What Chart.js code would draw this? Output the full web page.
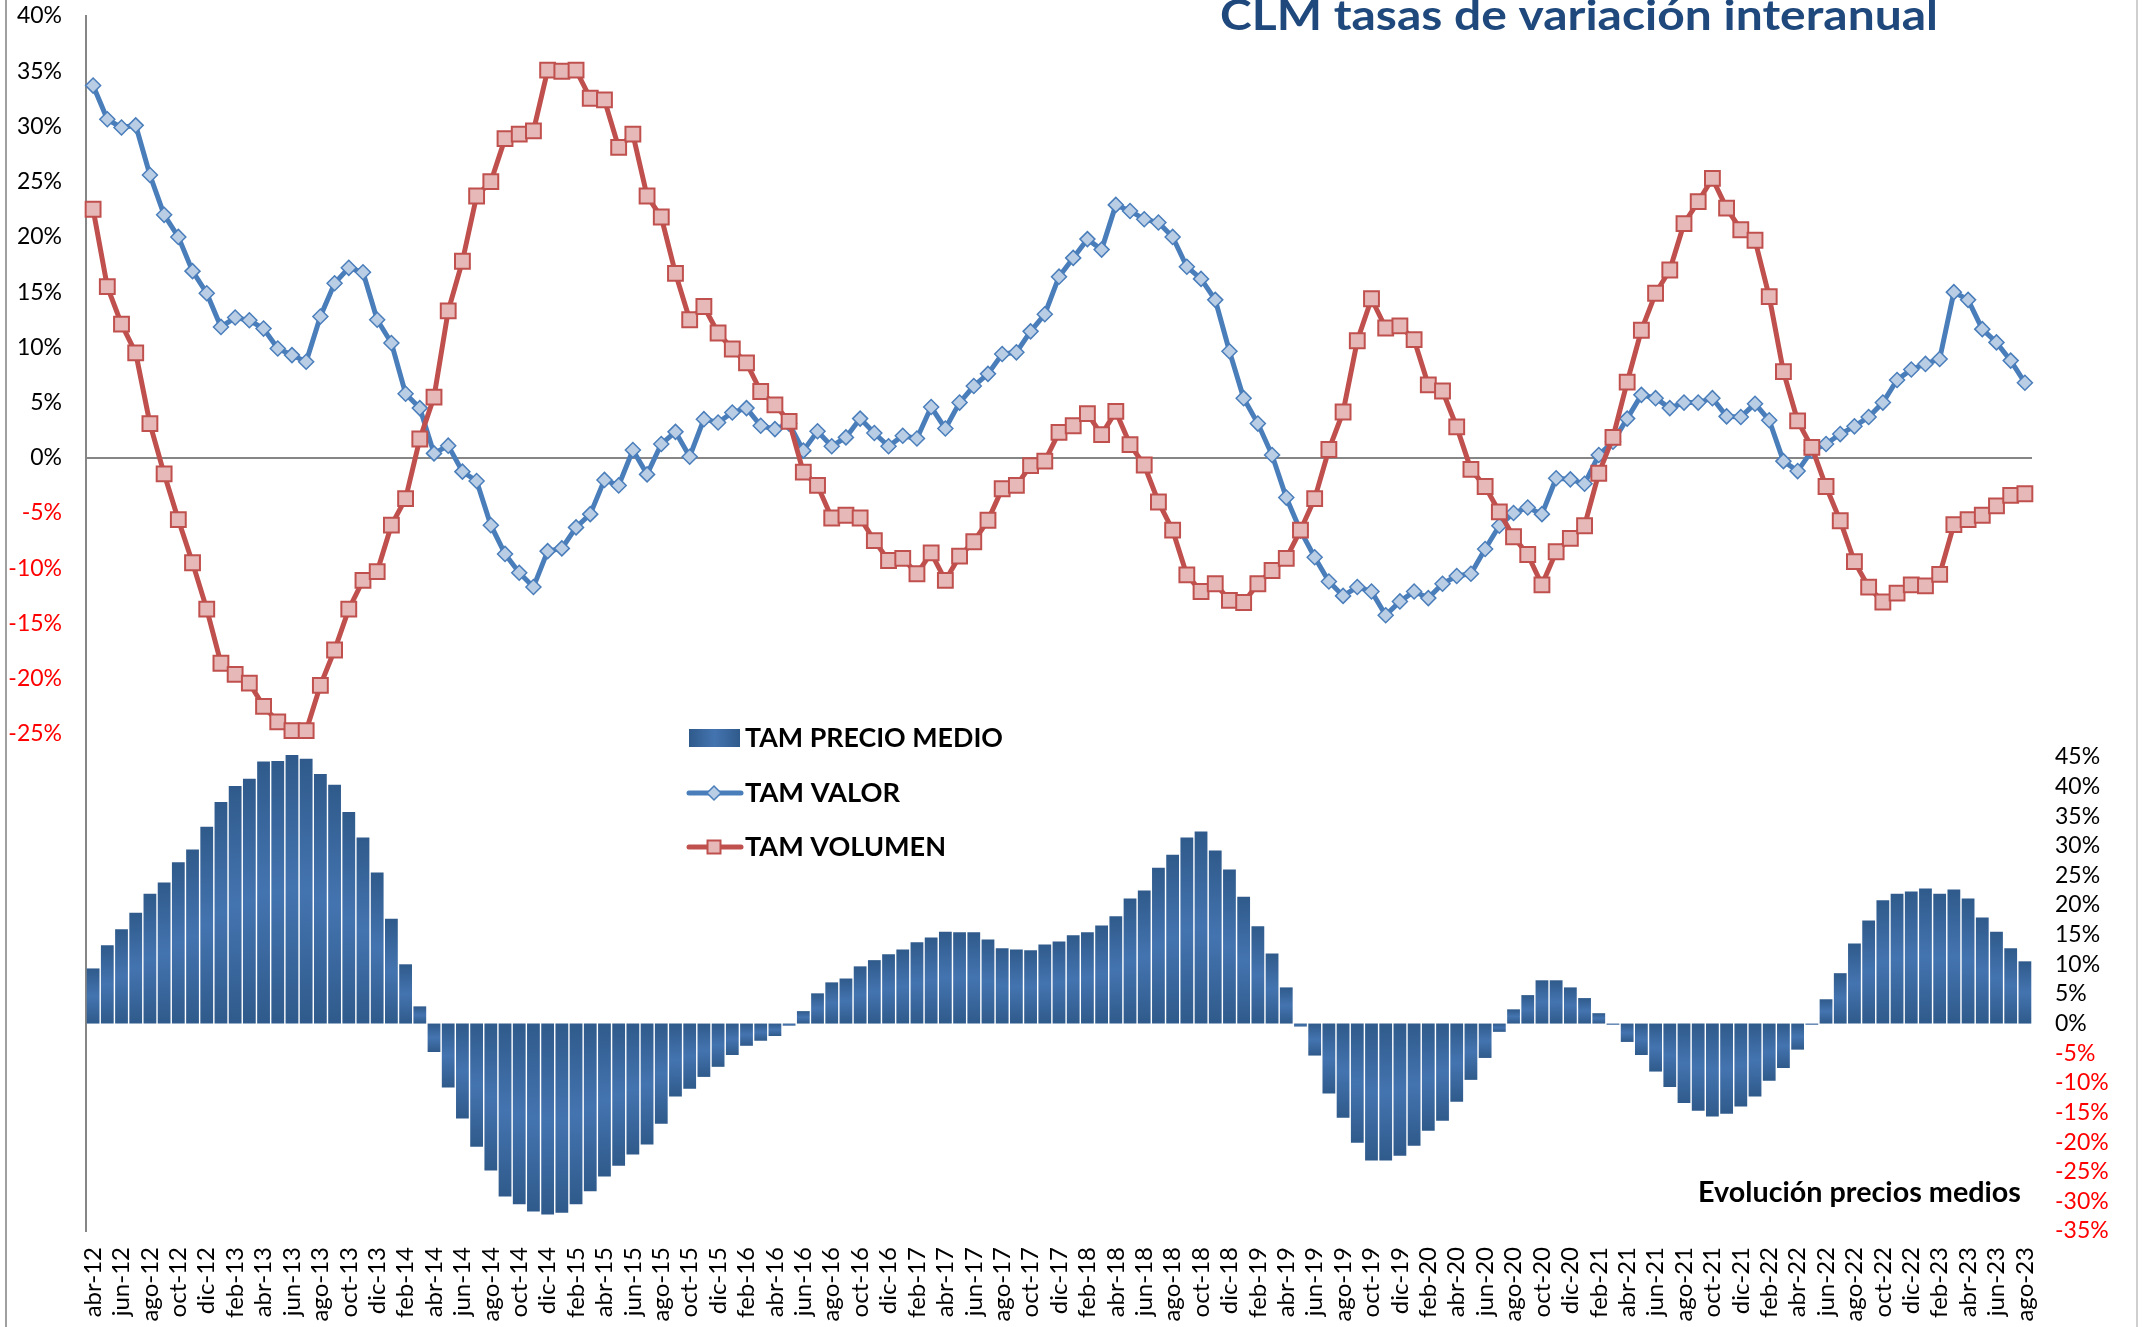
<!DOCTYPE html>
<html>
<head>
<meta charset="utf-8">
<script src="https://cdn.jsdelivr.net/npm/chart.js@4.4.0/dist/chart.umd.min.js"></script>
<style>
html,body{margin:0;padding:0;background:#ffffff;overflow:hidden}
#wrap{width:2143px;height:1327px;position:relative}
</style>
</head>
<body>
<div id="wrap"><canvas id="c" width="2143" height="1327"></canvas></div>
<script>
const LABELS = [
 'abr-12','may-12','jun-12','jul-12','ago-12','sep-12','oct-12','nov-12','dic-12',
 'ene-13','feb-13','mar-13','abr-13','may-13','jun-13','jul-13','ago-13','sep-13','oct-13','nov-13','dic-13',
 'ene-14','feb-14','mar-14','abr-14','may-14','jun-14','jul-14','ago-14','sep-14','oct-14','nov-14','dic-14',
 'ene-15','feb-15','mar-15','abr-15','may-15','jun-15','jul-15','ago-15','sep-15','oct-15','nov-15','dic-15',
 'ene-16','feb-16','mar-16','abr-16','may-16','jun-16','jul-16','ago-16','sep-16','oct-16','nov-16','dic-16',
 'ene-17','feb-17','mar-17','abr-17','may-17','jun-17','jul-17','ago-17','sep-17','oct-17','nov-17','dic-17',
 'ene-18','feb-18','mar-18','abr-18','may-18','jun-18','jul-18','ago-18','sep-18','oct-18','nov-18','dic-18',
 'ene-19','feb-19','mar-19','abr-19','may-19','jun-19','jul-19','ago-19','sep-19','oct-19','nov-19','dic-19',
 'ene-20','feb-20','mar-20','abr-20','may-20','jun-20','jul-20','ago-20','sep-20','oct-20','nov-20','dic-20',
 'ene-21','feb-21','mar-21','abr-21','may-21','jun-21','jul-21','ago-21','sep-21','oct-21','nov-21','dic-21',
 'ene-22','feb-22','mar-22','abr-22','may-22','jun-22','jul-22','ago-22','sep-22','oct-22','nov-22','dic-22',
 'ene-23','feb-23','mar-23','abr-23','may-23','jun-23','jul-23','ago-23'
];

const PRECIO = [
 9.3,13.2,15.9,18.7,21.9,23.8,27.2,29.35,33.2,37.4,40.1,41.3,44.2,44.3,45.3,44.7,42.1,40.3,35.7,31.4,
 25.5,17.7,10.0,2.9,-4.8,-10.8,-16.0,-20.8,-24.8,-29.2,-30.5,-31.7,-32.2,-31.9,-30.5,-28.3,-25.8,-24.0,-22.1,-20.4,
 -16.9,-12.3,-11.0,-9.0,-7.3,-5.3,-3.75,-2.9,-2.1,-0.35,2.1,5.1,6.95,7.6,9.65,10.7,11.7,12.5,13.7,14.5,
 15.5,15.4,15.4,14.2,12.7,12.5,12.35,13.35,13.85,14.9,15.4,16.55,18.1,21.1,22.45,26.3,28.5,31.4,32.4,29.2,
 26.0,21.4,16.4,11.8,6.1,-0.5,-5.4,-11.8,-15.9,-20.1,-23.1,-23.1,-22.3,-20.6,-18.1,-16.4,-13.2,-9.5,-5.8,-1.4,
 2.4,4.8,7.3,7.3,6.1,4.3,1.75,-0.2,-3.1,-5.3,-8.1,-10.7,-13.4,-14.7,-15.7,-15.2,-14.0,-12.3,-9.65,-7.5,
 -4.4,-0.2,4.1,8.5,13.5,17.4,20.8,21.9,22.3,22.8,21.9,22.6,21.1,17.9,15.5,12.7,10.5
];

const VALOR = [
 33.7,30.65,29.9,30.1,25.6,22.0,20.0,16.9,14.9,11.85,12.7,12.45,11.7,9.9,9.3,8.7,12.8,15.8,17.2,16.8,
 12.5,10.4,5.8,4.5,0.4,1.1,-1.25,-2.1,-6.1,-8.7,-10.4,-11.7,-8.45,-8.2,-6.3,-5.1,-2.0,-2.5,0.7,-1.5,
 1.25,2.35,0.1,3.5,3.2,4.1,4.5,2.9,2.6,3.1,0.65,2.4,1.05,1.85,3.55,2.25,1.05,2.0,1.75,4.6,
 2.65,5.0,6.5,7.6,9.4,9.55,11.45,13.0,16.4,18.1,19.8,18.85,22.9,22.35,21.6,21.3,20.0,17.3,16.2,14.3,
 9.65,5.4,3.1,0.25,-3.6,-6.6,-9.0,-11.2,-12.5,-11.7,-12.1,-14.25,-13.0,-12.1,-12.7,-11.4,-10.7,-10.5,-8.25,-6.15,
 -5.0,-4.5,-5.1,-1.85,-1.95,-2.35,0.25,1.45,3.55,5.7,5.4,4.5,5.0,5.0,5.4,3.75,3.7,4.9,3.4,-0.3,
 -1.2,0.65,1.25,2.15,2.85,3.7,5.0,7.05,8.0,8.5,8.95,15.0,14.3,11.65,10.45,8.8,6.8
];

const VOLUMEN = [
 22.5,15.5,12.1,9.5,3.1,-1.45,-5.6,-9.5,-13.7,-18.6,-19.6,-20.4,-22.5,-23.9,-24.7,-24.7,-20.6,-17.4,-13.7,-11.1,
 -10.3,-6.1,-3.7,1.7,5.5,13.3,17.8,23.7,25.0,28.9,29.3,29.6,35.1,35.0,35.1,32.55,32.4,28.1,29.3,23.7,
 21.8,16.7,12.5,13.7,11.3,9.85,8.6,6.0,4.8,3.3,-1.3,-2.5,-5.45,-5.2,-5.45,-7.5,-9.3,-9.1,-10.5,-8.6,
 -11.1,-8.9,-7.6,-5.65,-2.8,-2.5,-0.7,-0.3,2.3,2.9,4.0,2.1,4.2,1.2,-0.65,-4.0,-6.55,-10.6,-12.1,-11.4,
 -12.9,-13.1,-11.4,-10.2,-9.1,-6.55,-3.7,0.75,4.15,10.6,14.4,11.75,11.95,10.7,6.6,6.05,2.8,-1.05,-2.6,-4.9,
 -7.15,-8.75,-11.5,-8.5,-7.3,-6.15,-1.4,1.85,6.85,11.55,14.9,17.0,21.2,23.2,25.3,22.6,20.65,19.7,14.6,7.8,
 3.35,0.95,-2.6,-5.7,-9.4,-11.7,-13.05,-12.25,-11.5,-11.6,-10.55,-6.05,-5.6,-5.2,-4.35,-3.4,-3.25
];

const SERIES_NAMES = ['TAM PRECIO MEDIO', 'TAM VALOR', 'TAM VOLUMEN'];
const TITLE = 'CLM tasas de variación interanual';
const NOTE = 'Evolución precios medios';

// axis ranges (percent)
const LEFT_AXIS = { min: -70, max: 40, step: 5, labelFrom: -25 };
const RIGHT_AXIS = { min: -35, max: 170, step: 5, labelTo: 45 };

const BLUE = '#4A7EBB', BLUE_FILL = '#B9CDE5';
const RED = '#C0504D', RED_FILL = '#E6B9B8';
const BAR_DARK = '#2F5A8B', BAR_LIGHT = '#4474B0';
const FONT = 'Lato';

function barFill(ctx) {
  const chart = ctx.chart;
  if (!chart.chartArea || ctx.type !== 'data') return '#3A67A0';
  const sc = chart.scales.y2;
  const top = sc.getPixelForValue(ctx.raw);
  const base = sc.getPixelForValue(0);
  if (Math.abs(top - base) < 2) return '#3A67A0';
  const g = chart.ctx.createLinearGradient(0, top, 0, base);
  g.addColorStop(0, BAR_DARK);
  g.addColorStop(0.5, BAR_LIGHT);
  g.addColorStop(1, BAR_DARK);
  return g;
}

function fitText(c, s, x, y, w, font, color) {
  c.save();
  c.font = font;
  c.fillStyle = color;
  c.textAlign = 'left';
  c.textBaseline = 'alphabetic';
  const m = c.measureText(s).width;
  c.translate(x, y);
  c.scale(w / m, 1);
  c.fillText(s, 0, 0);
  c.restore();
}

const overlay = {
  id: 'overlay',
  afterDraw(chart) {
    const c = chart.ctx;
    c.save();
    // outer frame lines
    c.lineWidth = 2;
    c.strokeStyle = '#A0A0A0';
    c.beginPath(); c.moveTo(6, 0); c.lineTo(6, chart.height); c.stroke();
    c.strokeStyle = '#CFCFCF';
    c.beginPath(); c.moveTo(2137, 0); c.lineTo(2137, chart.height); c.stroke();

    // title and note
    fitText(c, TITLE, 1220, 30, 718, 'bold 42px ' + FONT, '#1F497D');
    fitText(c, NOTE, 1698, 1202, 323, 'bold 28px ' + FONT, '#000000');

    // legend
    const g = c.createLinearGradient(689, 0, 740, 0);
    g.addColorStop(0, BAR_DARK); g.addColorStop(0.5, BAR_LIGHT); g.addColorStop(1, BAR_DARK);
    c.fillStyle = g;
    c.fillRect(689, 729, 51, 18);
    fitText(c, SERIES_NAMES[0], 745, 747, 258, 'bold 26px ' + FONT, '#000000');

    c.lineCap = 'round';
    c.lineWidth = 5;
    c.strokeStyle = BLUE;
    c.beginPath(); c.moveTo(689, 793); c.lineTo(741, 793); c.stroke();
    c.lineWidth = 1.5;
    c.fillStyle = BLUE_FILL;
    c.beginPath(); c.moveTo(714 - 7, 793); c.lineTo(714, 786); c.lineTo(714 + 7, 793); c.lineTo(714, 800); c.closePath();
    c.fill(); c.stroke();
    fitText(c, SERIES_NAMES[1], 745, 802, 155, 'bold 26px ' + FONT, '#000000');

    c.lineWidth = 5;
    c.strokeStyle = RED;
    c.beginPath(); c.moveTo(689, 847); c.lineTo(741, 847); c.stroke();
    c.lineWidth = 2;
    c.fillStyle = RED_FILL;
    c.beginPath(); c.rect(714 - 6.5, 847 - 6.5, 13, 13); c.fill(); c.stroke();
    fitText(c, SERIES_NAMES[2], 745, 856, 201, 'bold 26px ' + FONT, '#000000');
    c.restore();
  }
};

new Chart(document.getElementById('c'), {
  type: 'bar',
  data: {
    labels: LABELS,
    datasets: [
      {
        type: 'line', label: SERIES_NAMES[2], data: VOLUMEN, yAxisID: 'y', order: 0,
        borderColor: RED, borderWidth: 5, tension: 0, fill: false,
        pointStyle: 'rect', pointRadius: 10.5, pointBackgroundColor: RED_FILL,
        pointBorderColor: RED, pointBorderWidth: 2
      },
      {
        type: 'line', label: SERIES_NAMES[1], data: VALOR, yAxisID: 'y', order: 1,
        borderColor: BLUE, borderWidth: 5, tension: 0, fill: false,
        pointStyle: 'rectRot', pointRadius: 7.5, pointBackgroundColor: BLUE_FILL,
        pointBorderColor: BLUE, pointBorderWidth: 1.5
      },
      {
        type: 'bar', label: SERIES_NAMES[0], data: PRECIO, yAxisID: 'y2', order: 2,
        backgroundColor: barFill, borderWidth: 0,
        barPercentage: 0.9, categoryPercentage: 1.0
      }
    ]
  },
  options: {
    responsive: false,
    animation: false,
    devicePixelRatio: 1,
    layout: { padding: { top: 16, left: 0, right: 0, bottom: 0 } },
    plugins: { legend: { display: false }, tooltip: { enabled: false } },
    scales: {
      x: {
        type: 'category',
        offset: true,
        grid: { display: false, drawTicks: false },
        border: { display: false },
        ticks: {
          autoSkip: false, minRotation: 90, maxRotation: 90, padding: 16,
          color: '#000000', font: { family: FONT, size: 24 },
          callback: function (v, i) { return i % 2 === 0 ? LABELS[i] : ''; }
        },
        afterFit(s) { s.height = 96; }
      },
      y: {
        type: 'linear', position: 'left',
        min: LEFT_AXIS.min, max: LEFT_AXIS.max,
        grid: {
          drawTicks: false, lineWidth: 2,
          color: (ctx) => (ctx.tick && ctx.tick.value === 0) ? '#868686' : 'rgba(0,0,0,0)'
        },
        border: { display: true, color: '#868686', width: 2 },
        ticks: {
          stepSize: LEFT_AXIS.step, autoSkip: false, padding: 24,
          font: { family: FONT, size: 23 },
          color: (ctx) => ctx.tick.value < 0 ? '#FF0000' : '#000000',
          callback: (v) => v >= LEFT_AXIS.labelFrom ? v + '%' : ''
        },
        afterFit(s) { s.width = 86; s.paddingTop = 0; s.paddingBottom = 0; }
      },
      y2: {
        type: 'linear', position: 'right',
        min: RIGHT_AXIS.min, max: RIGHT_AXIS.max,
        grid: { display: false, drawTicks: false },
        border: { display: false },
        ticks: {
          stepSize: RIGHT_AXIS.step, autoSkip: false, padding: 23,
          font: { family: FONT, size: 23 },
          color: (ctx) => ctx.tick.value < 0 ? '#FF0000' : '#000000',
          callback: (v) => v <= RIGHT_AXIS.labelTo ? v + '%' : ''
        },
        afterFit(s) { s.width = 111; s.paddingTop = 0; s.paddingBottom = 0; }
      }
    }
  },
  plugins: [overlay]
});
</script>
</body>
</html>
